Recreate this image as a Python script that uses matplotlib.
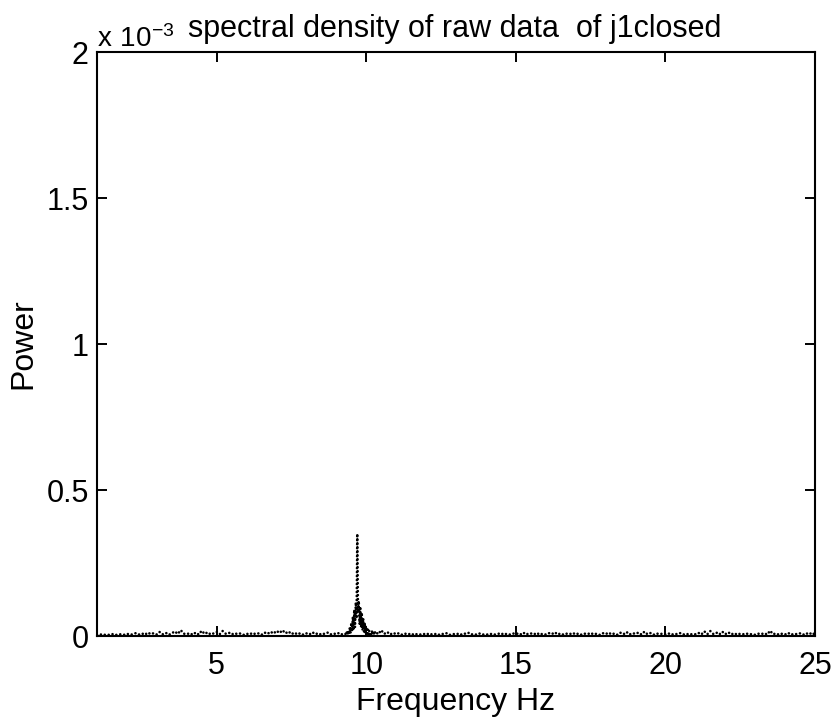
import numpy as np
import matplotlib.pyplot as plt

plt.rcParams['font.family'] = ['Liberation Sans', 'DejaVu Sans']
plt.rcParams['mathtext.fontset'] = 'custom'
plt.rcParams['mathtext.rm'] = 'Liberation Sans'

# power spectral density, in units of 1e-3
# noise floor below the peak, 1.0 .. 9.2 Hz in 0.1 Hz steps
low_band = [
    0.004, 0.006, 0.003, 0.005, 0.004, 0.007, 0.003, 0.005, 0.006, 0.004,
    0.008, 0.004, 0.006, 0.010, 0.005, 0.009, 0.004, 0.012, 0.006, 0.010,
    0.005, 0.014, 0.006, 0.011, 0.004, 0.009, 0.016, 0.007, 0.020, 0.008,
    0.006, 0.010, 0.004, 0.012, 0.005, 0.018, 0.007, 0.013, 0.005, 0.009,
    0.014, 0.006, 0.017, 0.008, 0.012, 0.005, 0.010, 0.006, 0.009, 0.004,
    0.008, 0.005, 0.011, 0.006, 0.009, 0.004, 0.012, 0.007, 0.015, 0.008,
    0.018, 0.010, 0.020, 0.009, 0.016, 0.006, 0.012, 0.005, 0.010, 0.004,
    0.009, 0.005, 0.013, 0.006, 0.010, 0.004, 0.008, 0.012, 0.005, 0.009,
    0.006, 0.011, 0.005,
]

# alpha peak region
peak_freq = [
    9.300, 9.325, 9.350, 9.375, 9.400, 9.425, 9.450, 9.475, 9.500, 9.525,
    9.550, 9.575, 9.600, 9.625, 9.650, 9.675, 9.700, 9.725, 9.750, 9.775,
    9.800, 9.825, 9.850, 9.875, 9.900, 9.925, 9.950, 9.975, 10.000, 10.025,
    10.050, 10.075, 10.100, 10.125, 10.150, 10.175, 10.200, 10.225, 10.250, 10.275,
]
peak_power = [
    0.008, 0.003, 0.012, 0.004, 0.018, 0.006, 0.030, 0.010, 0.045, 0.015,
    0.065, 0.020, 0.090, 0.030, 0.115, 0.060, 0.350, 0.080, 0.120, 0.040,
    0.100, 0.030, 0.080, 0.020, 0.060, 0.015, 0.045, 0.010, 0.030, 0.008,
    0.022, 0.006, 0.018, 0.005, 0.012, 0.004, 0.020, 0.005, 0.010, 0.004,
]

# noise floor above the peak, 10.3 .. 25.0 Hz in 0.1 Hz steps
high_band = [
    0.016, 0.006, 0.020, 0.007, 0.014, 0.005, 0.011,
    0.006, 0.010, 0.004, 0.008, 0.005, 0.009, 0.003, 0.007, 0.005, 0.008,
    0.004, 0.009, 0.005, 0.007, 0.003, 0.008, 0.006, 0.010, 0.004, 0.007,
    0.005, 0.009, 0.004, 0.008, 0.012, 0.005, 0.007, 0.004, 0.009, 0.005,
    0.006, 0.004, 0.008, 0.005, 0.007, 0.010, 0.004, 0.008, 0.005, 0.009,
    0.006, 0.010, 0.004, 0.012, 0.006, 0.009, 0.005, 0.011, 0.004, 0.008,
    0.005, 0.010, 0.006, 0.013, 0.005, 0.009, 0.004, 0.008, 0.006, 0.011,
    0.005, 0.009, 0.004, 0.008, 0.006, 0.011, 0.005, 0.008, 0.004, 0.010,
    0.006, 0.012, 0.005, 0.009, 0.004, 0.011, 0.006, 0.014, 0.005, 0.010,
    0.007, 0.012, 0.005, 0.015, 0.006, 0.010, 0.004, 0.009, 0.006, 0.008,
    0.005, 0.009, 0.004, 0.008, 0.006, 0.010, 0.005, 0.008, 0.004, 0.007,
    0.006, 0.011, 0.005, 0.016, 0.006, 0.017, 0.007, 0.012, 0.005, 0.015,
    0.006, 0.013, 0.005, 0.010, 0.004, 0.008, 0.006, 0.009, 0.005, 0.007,
    0.004, 0.008, 0.006, 0.010, 0.005, 0.018, 0.006, 0.009, 0.004, 0.008,
    0.005, 0.011, 0.004, 0.008, 0.006, 0.009, 0.004, 0.010, 0.005, 0.012,
    0.004,
]

x_ticks = [5, 10, 15, 20, 25]
y_ticks = [0, 0.5, 1, 1.5, 2]
y_tick_labels = ['0', '0.5', '1', '1.5', '2']

low_freq = np.round(np.arange(1.0, 9.25, 0.1), 2)
high_freq = np.round(np.arange(10.3, 25.05, 0.1), 2)
freq = np.concatenate([low_freq, peak_freq, high_freq])
power = np.concatenate([low_band, peak_power, high_band])

fig = plt.figure(figsize=(8.38, 7.23), dpi=100)
ax = fig.add_axes([97 / 838, 87 / 723, 718 / 838, 584 / 723])

ax.plot(freq, power, color='black', linestyle=(0, (0.01, 1.5)),
        linewidth=1.9, dash_capstyle='round')

ax.set_xlim(1, 25)
ax.set_ylim(0, 2)
ax.set_xticks(x_ticks)
ax.set_yticks(y_ticks)
ax.set_yticklabels(y_tick_labels)
ax.tick_params(direction='in', top=True, right=True, length=7, width=1.4,
               labelsize=22, pad=6)
ax.tick_params(axis='x', pad=11)
for s in ax.spines.values():
    s.set_linewidth(1.5)

ax.set_xlabel('Frequency Hz', fontsize=23, labelpad=4)
ax.set_ylabel('Power', fontsize=23, labelpad=6)

fig.text(97 / 838, 1 - 47 / 723, r'$\mathregular{x\ 10^{-3}}$', fontsize=20,
         ha='left', va='baseline')
fig.text(455 / 838, 1 - 37 / 723, 'spectral density of raw data  of j1closed',
         fontsize=22, ha='center', va='baseline')

fig.savefig('out.png', dpi=100)
